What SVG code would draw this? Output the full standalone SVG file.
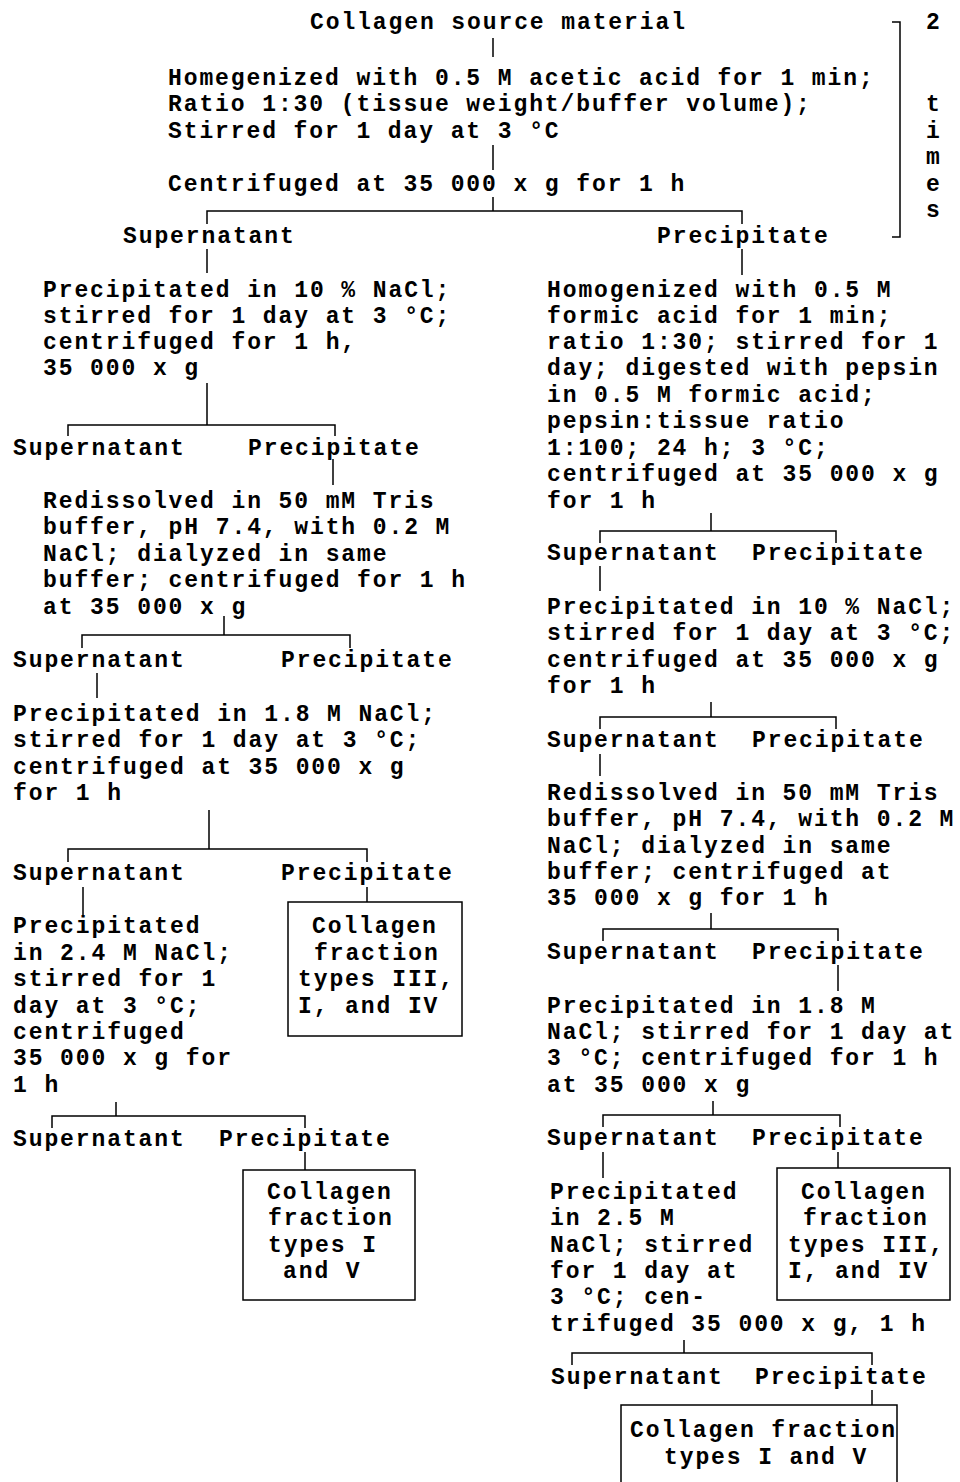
<svg xmlns="http://www.w3.org/2000/svg" width="960" height="1482" viewBox="0 0 960 1482">
<style>
.t{font-family:"Liberation Mono","DejaVu Sans Mono",monospace;font-size:23px;letter-spacing:1.9px;fill:#000;font-weight:bold}
.c{stroke:#000;stroke-width:1.5;fill:none}
</style>
<rect width="960" height="1482" fill="#fff"/>
<g id="connectors" class="c">
<path d="M493,38 V57"/>
<path d="M493,145 V170"/>
<path d="M493,197 V211 M207,224 V211 H742 V224"/>
<path d="M892,22 H900 V237 H892"/>
<path d="M207,249 V273"/>
<path d="M207,383 V425 M68,436 V425 H335 V436"/>
<path d="M333,459 V485"/>
<path d="M224,616 V635 M82,648 V635 H350 V648"/>
<path d="M97,673 V698"/>
<path d="M209,810 V849 M68,862 V849 H367 V862"/>
<path d="M83,887 V915"/>
<path d="M367,887 V902"/>
<path d="M116,1102 V1116 M52,1128 V1116 H305 V1128"/>
<path d="M305,1152 V1170"/>
<path d="M742,249 V275"/>
<path d="M711,513 V531 M600,543 V531 H836 V543"/>
<path d="M600,566 V591"/>
<path d="M711,702 V717 M600,729 V717 H836 V729"/>
<path d="M600,754 V776"/>
<path d="M711,913 V929 M603,941 V929 H838 V941"/>
<path d="M838,965 V991"/>
<path d="M713,1101 V1115 M603,1127 V1115 H840 V1127"/>
<path d="M603,1152 V1178"/>
<path d="M838,1152 V1168"/>
<path d="M684,1340 V1353 M572,1365 V1353 H872 V1365"/>
<path d="M872,1390 V1405"/>
</g>
<g id="source"><text class="t" x="310" y="29">Collagen source material</text></g>
<g id="homogenize">
<text class="t" x="168" y="85">Homegenized with 0.5 M acetic acid for 1 min;</text>
<text class="t" x="168" y="111">Ratio 1:30 (tissue weight/buffer volume);</text>
<text class="t" x="168" y="138">Stirred for 1 day at 3 °C</text>
</g>
<g id="centrifuge1"><text class="t" x="168" y="191">Centrifuged at 35 000 x g for 1 h</text></g>
<g id="times">
<text class="t" x="926" y="29">2</text>
<text class="t" x="926" y="111">t</text>
<text class="t" x="926" y="138">i</text>
<text class="t" x="926" y="164">m</text>
<text class="t" x="926" y="191">e</text>
<text class="t" x="926" y="217">s</text>
</g>
<g id="sup1"><text class="t" x="123" y="243">Supernatant</text></g>
<g id="prec1"><text class="t" x="657" y="243">Precipitate</text></g>
<g id="L1">
<text class="t" x="43" y="297">Precipitated in 10 % NaCl;</text>
<text class="t" x="43" y="323">stirred for 1 day at 3 °C;</text>
<text class="t" x="43" y="349">centrifuged for 1 h,</text>
<text class="t" x="43" y="375">35 000 x g</text>
</g>
<g id="L1s"><text class="t" x="13" y="455">Supernatant</text></g>
<g id="L1p"><text class="t" x="248" y="455">Precipitate</text></g>
<g id="L2">
<text class="t" x="43" y="508">Redissolved in 50 mM Tris</text>
<text class="t" x="43" y="534">buffer, pH 7.4, with 0.2 M</text>
<text class="t" x="43" y="561">NaCl; dialyzed in same</text>
<text class="t" x="43" y="587">buffer; centrifuged for 1 h</text>
<text class="t" x="43" y="614">at 35 000 x g</text>
</g>
<g id="L2s"><text class="t" x="13" y="667">Supernatant</text></g>
<g id="L2p"><text class="t" x="281" y="667">Precipitate</text></g>
<g id="L3">
<text class="t" x="13" y="721">Precipitated in 1.8 M NaCl;</text>
<text class="t" x="13" y="747">stirred for 1 day at 3 °C;</text>
<text class="t" x="13" y="774">centrifuged at 35 000 x g</text>
<text class="t" x="13" y="800">for 1 h</text>
</g>
<g id="L3s"><text class="t" x="13" y="880">Supernatant</text></g>
<g id="L3p"><text class="t" x="281" y="880">Precipitate</text></g>
<g id="L4">
<text class="t" x="13" y="933">Precipitated</text>
<text class="t" x="13" y="960">in 2.4 M NaCl;</text>
<text class="t" x="13" y="986">stirred for 1</text>
<text class="t" x="13" y="1013">day at 3 °C;</text>
<text class="t" x="13" y="1039">centrifuged</text>
<text class="t" x="13" y="1065">35 000 x g for</text>
<text class="t" x="13" y="1092">1 h</text>
</g>
<g id="Lbox1">
<rect class="c" x="288" y="902" width="174" height="134"/>
<text class="t" x="312" y="933">Collagen</text>
<text class="t" x="314" y="960">fraction</text>
<text class="t" x="298" y="986">types III,</text>
<text class="t" x="298" y="1013">I, and IV</text>
</g>
<g id="L4s"><text class="t" x="13" y="1146">Supernatant</text></g>
<g id="L4p"><text class="t" x="219" y="1146">Precipitate</text></g>
<g id="Lbox2">
<rect class="c" x="243" y="1170" width="172" height="130"/>
<text class="t" x="267" y="1199">Collagen</text>
<text class="t" x="268" y="1225">fraction</text>
<text class="t" x="268" y="1252">types I</text>
<text class="t" x="283" y="1278">and V</text>
</g>
<g id="R1">
<text class="t" x="547" y="297">Homogenized with 0.5 M</text>
<text class="t" x="547" y="323">formic acid for 1 min;</text>
<text class="t" x="547" y="349">ratio 1:30; stirred for 1</text>
<text class="t" x="547" y="375">day; digested with pepsin</text>
<text class="t" x="547" y="402">in 0.5 M formic acid;</text>
<text class="t" x="547" y="428">pepsin:tissue ratio</text>
<text class="t" x="547" y="455">1:100; 24 h; 3 °C;</text>
<text class="t" x="547" y="481">centrifuged at 35 000 x g</text>
<text class="t" x="547" y="508">for 1 h</text>
</g>
<g id="R1s"><text class="t" x="547" y="560">Supernatant</text></g>
<g id="R1p"><text class="t" x="752" y="560">Precipitate</text></g>
<g id="R2">
<text class="t" x="547" y="614">Precipitated in 10 % NaCl;</text>
<text class="t" x="547" y="640">stirred for 1 day at 3 °C;</text>
<text class="t" x="547" y="667">centrifuged at 35 000 x g</text>
<text class="t" x="547" y="693">for 1 h</text>
</g>
<g id="R2s"><text class="t" x="547" y="747">Supernatant</text></g>
<g id="R2p"><text class="t" x="752" y="747">Precipitate</text></g>
<g id="R3">
<text class="t" x="547" y="800">Redissolved in 50 mM Tris</text>
<text class="t" x="547" y="826">buffer, pH 7.4, with 0.2 M</text>
<text class="t" x="547" y="853">NaCl; dialyzed in same</text>
<text class="t" x="547" y="879">buffer; centrifuged at</text>
<text class="t" x="547" y="905">35 000 x g for 1 h</text>
</g>
<g id="R3s"><text class="t" x="547" y="959">Supernatant</text></g>
<g id="R3p"><text class="t" x="752" y="959">Precipitate</text></g>
<g id="R4">
<text class="t" x="547" y="1013">Precipitated in 1.8 M</text>
<text class="t" x="547" y="1039">NaCl; stirred for 1 day at</text>
<text class="t" x="547" y="1065">3 °C; centrifuged for 1 h</text>
<text class="t" x="547" y="1092">at 35 000 x g</text>
</g>
<g id="R4s"><text class="t" x="547" y="1145">Supernatant</text></g>
<g id="R4p"><text class="t" x="752" y="1145">Precipitate</text></g>
<g id="Rbox1">
<rect class="c" x="777" y="1168" width="173" height="132"/>
<text class="t" x="801" y="1199">Collagen</text>
<text class="t" x="803" y="1225">fraction</text>
<text class="t" x="788" y="1252">types III,</text>
<text class="t" x="788" y="1278">I, and IV</text>
</g>
<g id="R5">
<text class="t" x="550" y="1199">Precipitated</text>
<text class="t" x="550" y="1225">in 2.5 M</text>
<text class="t" x="550" y="1252">NaCl; stirred</text>
<text class="t" x="550" y="1278">for 1 day at</text>
<text class="t" x="550" y="1304">3 °C; cen-</text>
<text class="t" x="550" y="1331">trifuged 35 000 x g, 1 h</text>
</g>
<g id="R5s"><text class="t" x="551" y="1384">Supernatant</text></g>
<g id="R5p"><text class="t" x="755" y="1384">Precipitate</text></g>
<g id="Rbox2">
<path class="c" d="M621,1490 V1405 H897 V1490"/>
<text class="t" x="630" y="1437">Collagen fraction</text>
<text class="t" x="664" y="1464">types I and V</text>
</g>
</svg>
